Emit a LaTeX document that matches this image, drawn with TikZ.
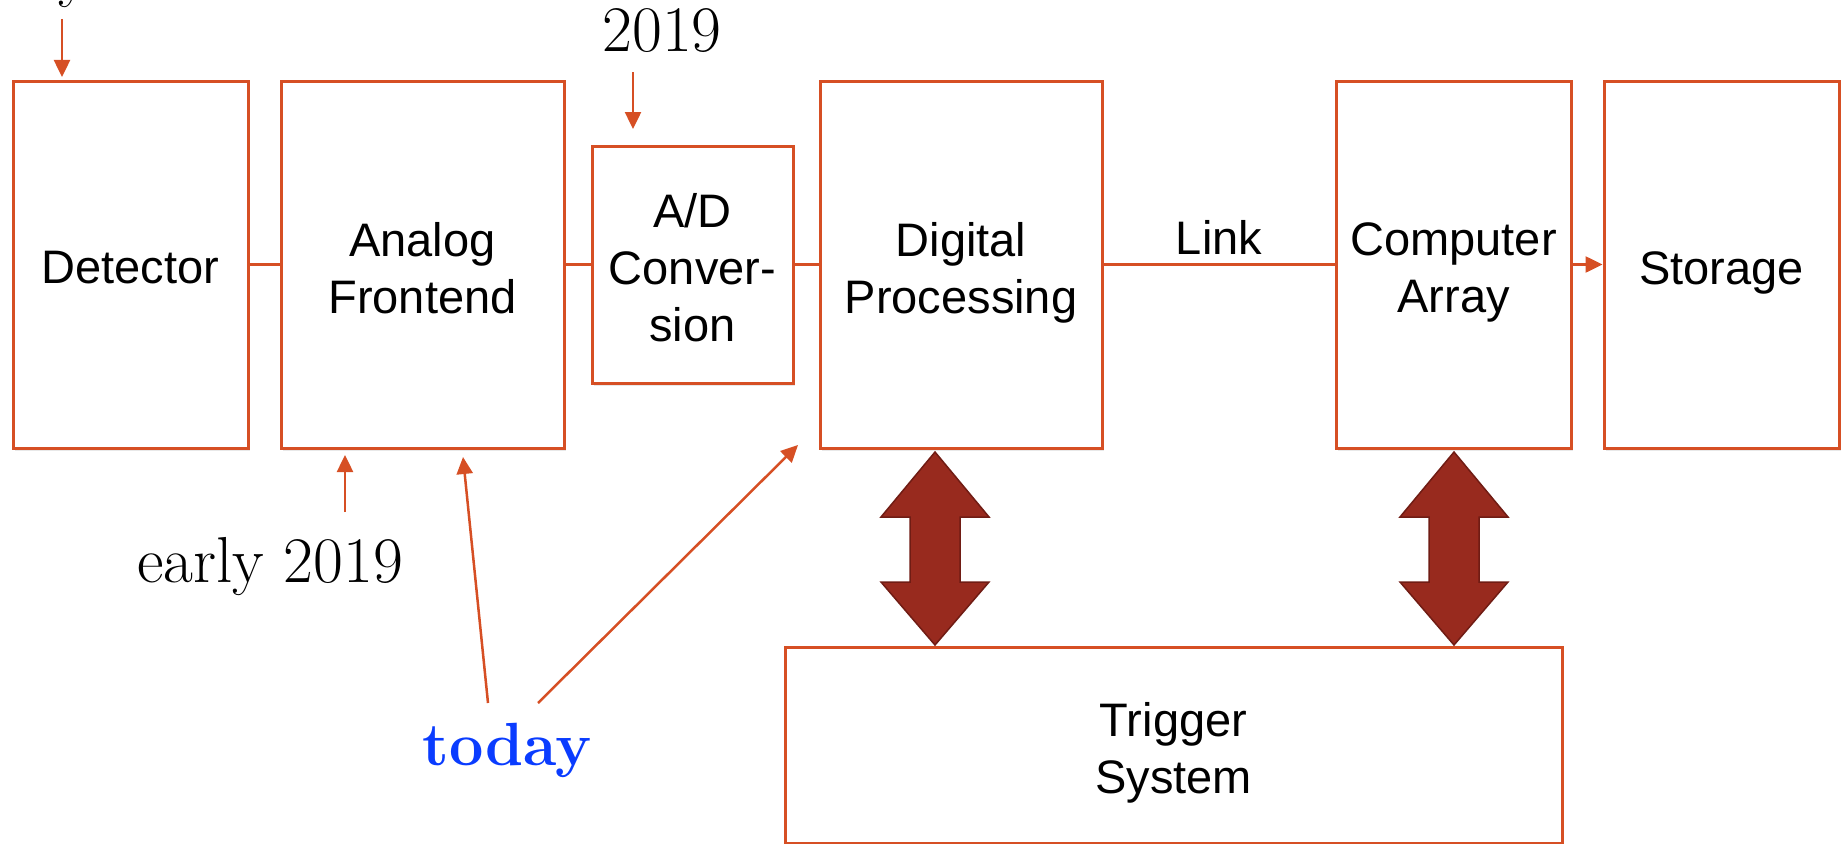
\documentclass[tikz,border=0pt]{standalone}
\usepackage{fontspec}
\newfontfamily\boxfont{Liberation Sans}
\usetikzlibrary{arrows.meta,shadows}
\definecolor{lineorange}{RGB}{214,79,36}
\definecolor{bigred}{RGB}{152,42,30}
\definecolor{bigredline}{RGB}{112,28,20}
\definecolor{todayblue}{RGB}{10,60,255}
\begin{document}
\begin{tikzpicture}[x=1pt,y=-1pt,
  block/.style={draw=lineorange, line width=3pt, fill=white, inner sep=0pt,
    drop shadow={opacity=0.18, shadow xshift=2pt, shadow yshift=-3pt}},
  boxtext/.style={inner sep=0pt, align=center, yshift=-8pt,
    font=\boxfont\fontsize{47}{57}\selectfont,
    execute at end node={\vphantom{g}}},
  link/.style={draw=lineorange, line width=2.5pt},
  pointer/.style={draw=lineorange, line width=2.5pt,
    -{Triangle[length=17pt,width=16pt]}},
  datetext/.style={inner sep=0pt, anchor=base, font=\fontsize{65}{78}\selectfont},
  twoway/.style={fill=bigred, draw=bigredline, line width=1.5pt, line join=miter},
]
\useasboundingbox (0,0) rectangle (1841,843);

% processing chain
\node[block, minimum width=235pt, minimum height=367pt,
  label={[boxtext]center:{Detector}}] (det) at (130.5,264.5) {};
\node[block, minimum width=283pt, minimum height=367pt,
  label={[boxtext]center:{Analog\\Frontend}}] (afe) at (422.5,264.5) {};
\node[block, minimum width=201pt, minimum height=237pt,
  label={[boxtext]center:{A/D\\Conver-\\sion}}] (adc) at (692.5,264.5) {};
\node[block, minimum width=282pt, minimum height=367pt,
  label={[boxtext]center:{Digital\\Processing}}] (dig) at (961,264.5) {};
\node[block, minimum width=235pt, minimum height=367pt,
  label={[boxtext]center:{Computer\\Array}}] (comp) at (1453.5,264.5) {};
\node[block, minimum width=235pt, minimum height=367pt,
  label={[boxtext]center:{Storage}}] (stor) at (1721.5,264.5) {};
\node[block, minimum width=777pt, minimum height=196pt,
  label={[boxtext]center:{Trigger\\System}}] (trig) at (1173.5,745) {};

% links between stages
\draw[link] (det.east) -- (afe.west);
\draw[link] (afe.east) -- (adc.west);
\draw[link] (adc.east) -- (dig.west);
\draw[link] (dig.east) -- node[anchor=base, inner sep=0pt, yshift=10pt,
  font=\boxfont\fontsize{47}{57}\selectfont] (linklbl) {Link} (comp.west);
\draw[pointer] (comp.east) -- (stor.west);

% trigger interfaces
\draw[twoway] (935,452) -- (989,517) -- (960,517) -- (960,582) -- (989,582)
  -- (935,645) -- (881,582) -- (910,582) -- (910,517) -- (881,517) -- cycle;
\draw[twoway] (1454,452) -- (1508,517) -- (1479,517) -- (1479,582) -- (1508,582)
  -- (1454,645) -- (1400,582) -- (1429,582) -- (1429,517) -- (1400,517) -- cycle;

% timeline annotations
\node[datetext, anchor=base west] (prevdate) at (58,-5) {y};
\coordinate (detstart) at (62,19);
\coordinate (detend) at (62,77);
\draw[pointer] (detstart) -- (detend);

\node[datetext] (adcdate) at (662,52) {2019};
\coordinate (adcstart) at (633,72);
\coordinate (adcend) at (633,129);
\draw[pointer] (adcstart) -- (adcend);

\node[datetext] (afedate) at (270,582) {early 2019};
\coordinate (afestart) at (345,512);
\coordinate (afeend) at (345,455);
\draw[pointer] (afestart) -- (afeend);

\node[inner sep=0pt, anchor=base, text=todayblue,
  font=\bfseries\fontsize{61}{72}\selectfont] (today) at (507,765) {today};
\coordinate (todayA) at (488,703);
\coordinate (todayB) at (538,703);
\coordinate (afetip) at (463,457);
\coordinate (digtip) at (798,445);
\draw[pointer] (todayA) -- (afetip);
\draw[pointer] (todayB) -- (digtip);
\end{tikzpicture}
\end{document}
